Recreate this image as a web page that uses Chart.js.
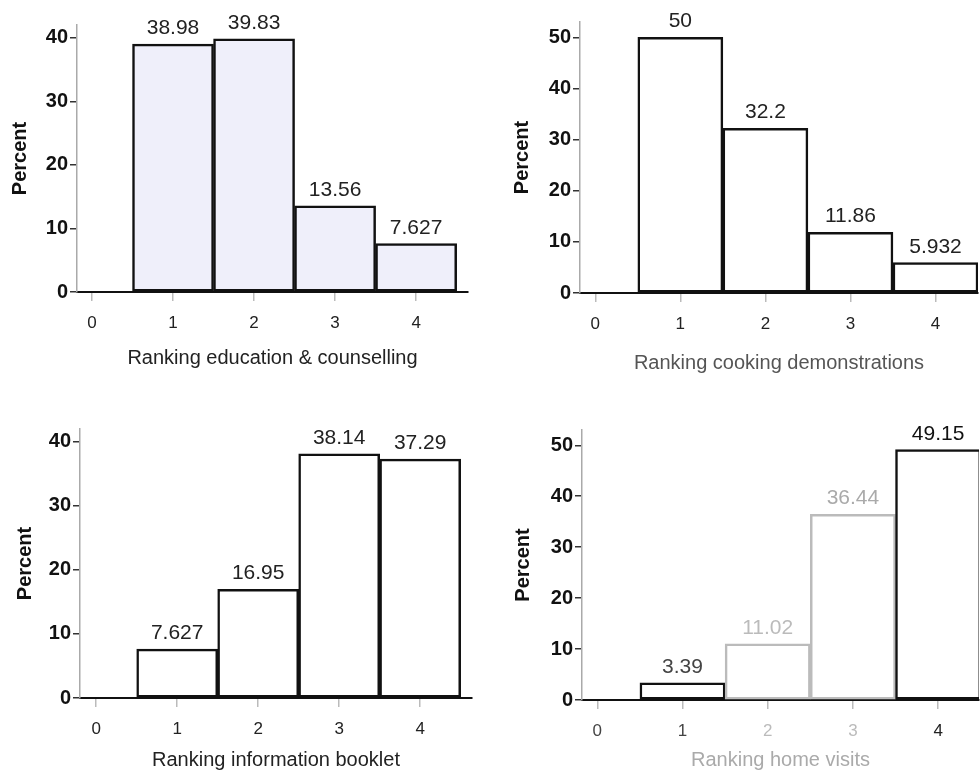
<!DOCTYPE html>
<html>
<head>
<meta charset="utf-8">
<script src="https://cdn.jsdelivr.net/npm/chart.js@4.4.1/dist/chart.umd.min.js"></script>
<style>
  body { margin: 0; background: #fff; }
  #wrap { position: relative; width: 980px; height: 775px; }
  canvas { position: absolute; }
</style>
</head>
<body>
<div id="wrap">
  <canvas id="c1" width="490" height="387" style="left:0;top:0"></canvas>
  <canvas id="c2" width="490" height="387" style="left:490px;top:0"></canvas>
  <canvas id="c3" width="490" height="387" style="left:0;top:388px"></canvas>
  <canvas id="c4" width="490" height="387" style="left:490px;top:388px"></canvas>
</div>
<script>
// Data
const rankings = [1, 2, 3, 4];
const xTicks = [0, 1, 2, 3, 4];
const yTicksLow = [0, 10, 20, 30, 40];
const yTicksHigh = [0, 10, 20, 30, 40, 50];

const educationCounselling = [38.98, 39.83, 13.56, 7.627];
const cookingDemonstrations = [50, 32.2, 11.86, 5.932];
const informationBooklet = [7.627, 16.95, 38.14, 37.29];
const homeVisits = [3.39, 11.02, 36.44, 49.15];

const FONT = "'Liberation Sans', Arial, Helvetica, sans-serif";

// Value label above each bar
const barLabels = {
    id: 'barLabels',
    afterDatasetsDraw(chart, args, opts) {
        const ctx = chart.ctx;
        const ds = chart.data.datasets[0];
        chart.getDatasetMeta(0).data.forEach((bar, i) => {
            ctx.save();
            ctx.font = '21px ' + FONT;
            ctx.fillStyle = opts.colors ? opts.colors[i] : '#222';
            ctx.textAlign = 'center';
            ctx.textBaseline = 'alphabetic';
            ctx.fillText(String(ds.data[i].y), bar.x, bar.y - 10);
            ctx.restore();
        });
    }
};

// Function to create one histogram panel
function makePanel(id, p) {
    new Chart(document.getElementById(id), {
        type: 'bar',
        data: {
            datasets: [{
                data: rankings.map((r, i) => ({ x: r, y: p.values[i] })),
                backgroundColor: p.fill || '#fff',
                borderColor: p.borders || '#111',
                borderWidth: 2.5,
                borderSkipped: false,
                barPercentage: 1,
                categoryPercentage: 1
            }]
        },
        plugins: [barLabels],
        options: {
            responsive: false,
            animation: false,
            layout: { padding: p.padding },
            plugins: {
                legend: { display: false },
                tooltip: { enabled: false },
                barLabels: { colors: p.labelColors }
            },
            scales: {
                x: {
                    type: 'linear',
                    offset: false,
                    min: p.xMin,
                    max: p.xMax,
                    afterBuildTicks: axis => { axis.ticks = xTicks.map(v => ({ value: v })); },
                    afterFit: axis => { axis.height = p.xHeight; },
                    grid: { drawOnChartArea: false, offset: false, color: '#bbb', tickLength: 9, lineWidth: 1.5 },
                    border: { color: '#111', width: 2 },
                    ticks: {
                        color: p.xTickColors || '#222',
                        font: { family: FONT, size: 17 },
                        padding: 12,
                        maxRotation: 0
                    },
                    title: {
                        display: true,
                        text: p.title,
                        color: p.titleColor || '#222',
                        font: { family: FONT, size: 20 },
                        padding: 0
                    }
                },
                y: {
                    min: 0,
                    max: p.yMax,
                    afterBuildTicks: axis => { axis.ticks = p.yTicks.map(v => ({ value: v })); },
                    afterFit: axis => { axis.width = p.yWidth; },
                    grid: { drawOnChartArea: false, color: '#333', tickLength: 7, lineWidth: 1.5 },
                    border: { color: '#aaa', width: 1.5 },
                    ticks: {
                        color: '#111',
                        font: { family: FONT, size: 20, weight: 'bold' },
                        padding: 2
                    },
                    title: {
                        display: true,
                        text: 'Percent',
                        color: '#111',
                        font: { family: FONT, size: 20, weight: 'bold' },
                        padding: 0
                    }
                }
            }
        }
    });
}

makePanel('c1', {
    values: educationCounselling, title: 'Ranking education & counselling',
    fill: '#efeffa', yMax: 42, yTicks: yTicksLow, xMin: -0.185, xMax: 4.64,
    padding: { left: 8, top: 25, right: 22, bottom: 17 }, yWidth: 69, xHeight: 78
});

makePanel('c2', {
    values: cookingDemonstrations, title: 'Ranking cooking demonstrations', titleColor: '#555',
    yMax: 53, yTicks: yTicksHigh, xMin: -0.18, xMax: 4.5,
    padding: { left: 20, top: 22, right: 2, bottom: 12 }, yWidth: 70, xHeight: 82
});

makePanel('c3', {
    values: informationBooklet, title: 'Ranking information booklet',
    yMax: 42, yTicks: yTicksLow, xMin: -0.2, xMax: 4.64,
    padding: { left: 13, top: 41, right: 18, bottom: 3 }, yWidth: 67, xHeight: 74
});

makePanel('c4', {
    values: homeVisits, title: 'Ranking home visits', titleColor: '#aaa',
    borders: ['#111', '#bbb', '#bbb', '#111'],
    labelColors: ['#444', '#bbb', '#aaa', '#111'],
    xTickColors: ['#444', '#444', '#bbb', '#bbb', '#222'],
    yMax: 53, yTicks: yTicksHigh, xMin: -0.18, xMax: 4.48,
    padding: { left: 21, top: 42, right: 1, bottom: 3 }, yWidth: 71, xHeight: 72
});
</script>
</body>
</html>
